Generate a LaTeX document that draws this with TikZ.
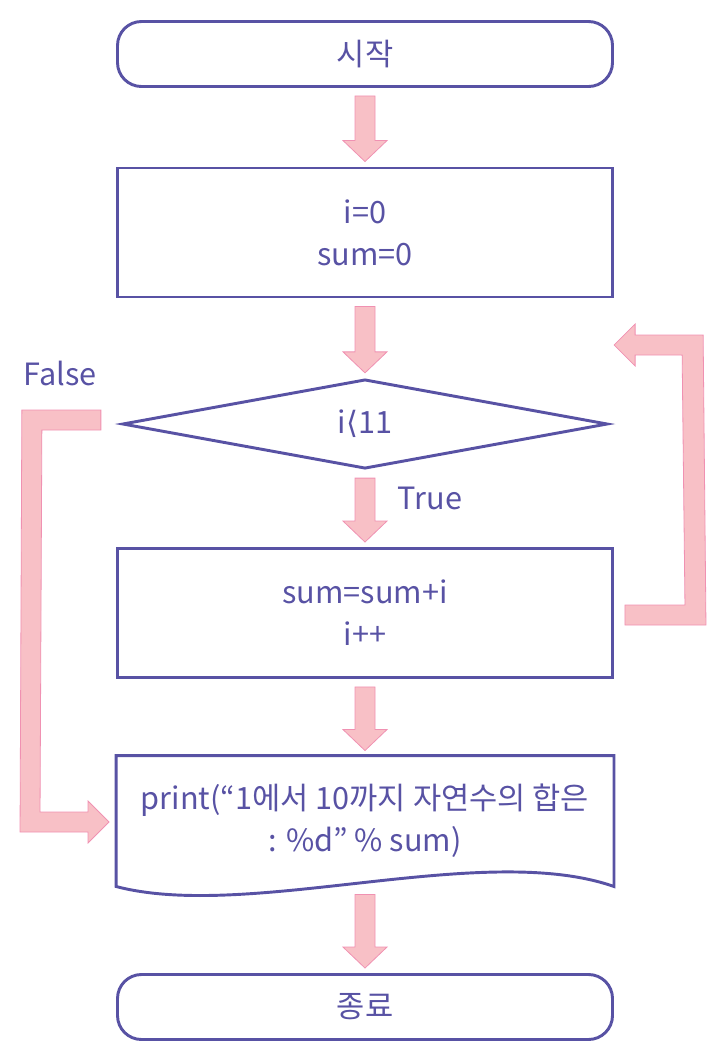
\documentclass[tikz,border=0pt]{standalone}
\usepackage{fontspec}
\setmainfont{Noto Sans CJK KR}
\newfontfamily\simbolo{DejaVu Sans}
\usetikzlibrary{calc,shapes.geometric}
\definecolor{morado}{RGB}{88,82,164}
\definecolor{rosa}{RGB}{248,192,198}
\definecolor{rosaborde}{RGB}{240,145,178}

% flecha gruesa hacia abajo entre dos nodos
\newcommand{\flechabaja}[2]{%
  \draw[flecha] ($(#1.south)+(-10,8)$) -- ($(#1.south)+(10,8)$)
    -- ($(#2.north)+(10,-26)$) -- ($(#2.north)+(22,-26)$)
    -- ($(#2.north)+(0,-5)$) -- ($(#2.north)+(-22,-26)$)
    -- ($(#2.north)+(-10,-26)$) -- cycle;}

\begin{document}
\begin{tikzpicture}[x=0.75pt, y=-0.75pt,
  caja/.style={draw=morado, line width=2.2pt, minimum width=371.25pt,
               minimum height=96.75pt, text=morado, align=center,
               font=\fontsize{23}{31.5}\selectfont, inner sep=0pt},
  terminal/.style={caja, rounded corners=18pt, minimum height=48.75pt},
  decision/.style={caja, diamond, aspect=5, minimum width=364pt,
                   minimum height=67pt},
  documento/.style={caja, draw=none, minimum height=96pt},
  etiq/.style={text=morado, font=\fontsize{23}{31.5}\selectfont},
  flecha/.style={fill=rosa, draw=rosaborde, line width=0.6pt}]
  \useasboundingbox (0,0) rectangle (725,1061);
  % Nodos
  \node[terminal] (inicio) at (365,54) {시작};
  \node[caja] (ini) at (365,232.5) {i=0\\sum=0};
  \node[decision] (cond) at (365,424) {i{\simbolo ⟨}11};
  \node[caja] (proc) at (365,613) {sum=sum+i\\i++};
  \node[documento] (doc) at (365,821)
       {print(“1에서 10까지 자연수의 합은\\: \%d” \% sum)};
  \node[terminal] (fin) at (365,1007) {종료};
  % Documento
  \draw[morado, line width=2.2pt] (doc.south west) -- (doc.north west)
    -- (doc.north east) -- (doc.south east)
    .. controls ($(doc.south east)+(-132,-46)$) and ($(doc.south west)+(133,35)$)
    .. (doc.south west) -- cycle;
  % Etiquetas
  \node[etiq] (lfalso) at (60,373) {False};
  \node[etiq] (lcierto) at (430,498) {True};
  % Flechas
  \flechabaja{inicio}{ini}
  \flechabaja{ini}{cond}
  \flechabaja{cond}{proc}
  \flechabaja{proc}{doc}
  \flechabaja{doc}{fin}
  % False
  \coordinate (fa) at ($(cond.west)+(-20,-4)$);
  \coordinate (fb) at ($(doc.west)+(-7,1)$);
  \draw[flecha] ($(fa)+(0,-10)$) -- ($(fa)+(-79,-10)$) -- ($(fb)+(-89,10)$)
    -- ($(fb)+(-21,10)$) -- ($(fb)+(-21,21)$) -- (fb)
    -- ($(fb)+(-21,-21)$) -- ($(fb)+(-21,-10)$) -- ($(fb)+(-69,-10)$)
    -- ($(fa)+(-59,10)$) -- ($(fa)+(0,10)$) -- cycle;
  % Retorno
  \coordinate (ra) at ($(proc.east)+(11,2)$);
  \coordinate (rb) at ($(cond.east)+(5,-79)$);
  \draw[flecha] ($(ra)+(0,-10)$) -- ($(ra)+(60,-10)$) -- ($(rb)+(68,10)$)
    -- ($(rb)+(21,10)$) -- ($(rb)+(21,21)$) -- (rb)
    -- ($(rb)+(21,-21)$) -- ($(rb)+(21,-10)$) -- ($(rb)+(89,-10)$)
    -- ($(ra)+(81,10)$) -- ($(ra)+(0,10)$) -- cycle;
\end{tikzpicture}
\end{document}
